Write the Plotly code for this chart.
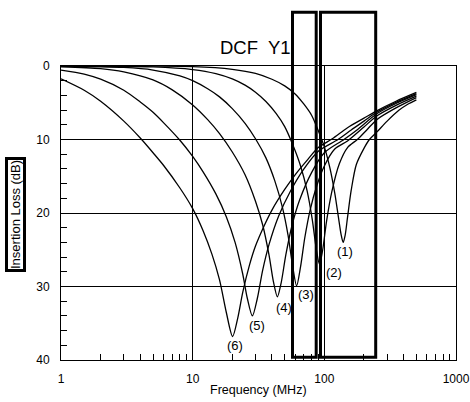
import math
import plotly.graph_objects as go

# Insertion loss (dB) versus frequency (MHz) for the six filter variants
curve1_mhz = [1, 10, 20, 30, 40, 50, 60, 70, 80, 90, 100, 110, 120, 128, 134, 139, 144, 150, 160, 175, 200, 220, 250, 300, 370, 430, 500]
curve1_db = [0.0, 0.09, 0.45, 1.0, 1.8, 2.7, 3.8, 5.2, 6.7, 8.8, 11.0, 13.8, 17.3, 20.6, 22.9, 24.0, 23.0, 20.6, 16.9, 13.4, 11.2, 10.0, 9.0, 7.5, 6.0, 5.2, 4.6]

curve2_mhz = [1, 5, 10, 15, 20, 25, 30, 36, 43, 50, 58, 66, 74, 81, 87, 92, 97, 104, 114, 130, 150, 178, 210, 250, 350, 500]
curve2_db = [0.0, 0.12, 0.48, 1.03, 1.75, 2.6, 3.56, 4.82, 6.45, 8.25, 10.85, 13.6, 17.0, 20.9, 25.0, 27.0, 25.1, 21.1, 17.1, 13.3, 11.1, 10.0, 8.7, 7.3, 5.7, 4.3]

curve3_mhz = [1, 3, 5, 8, 10, 13, 16, 20, 25, 30, 36, 42, 48, 53, 57, 61.6, 66, 71, 78, 88, 100, 120, 150, 200, 250, 350, 500]
curve3_db = [0.0, 0.2, 0.55, 1.35, 2.0, 3.1, 4.2, 5.8, 7.8, 9.9, 12.5, 15.6, 19.2, 23.0, 26.8, 29.9, 27.3, 23.4, 19.6, 16.2, 13.6, 11.3, 10.2, 8.3, 6.8, 5.35, 4.1]

curve4_mhz = [1, 2, 3, 5, 7, 10, 13, 16, 20, 25, 30, 34, 38, 41, 44, 47, 51, 57, 65, 80, 100, 141, 180, 250, 350, 500]
curve4_db = [0.1, 0.35, 0.8, 1.9, 3.25, 5.3, 7.3, 9.2, 11.7, 14.8, 18.4, 21.6, 25.7, 29.3, 31.4, 29.5, 25.7, 21.6, 18.2, 14.5, 11.8, 10.0, 8.6, 6.5, 5.1, 3.9]

curve5_mhz = [1, 1.5, 2, 3, 4, 5, 6, 8, 10, 12, 15, 18, 21, 24, 26, 28.4, 31, 34, 38, 45, 55, 70, 90, 127, 160, 200, 250, 350, 500]
curve5_db = [0.55, 1.1, 1.8, 3.3, 4.9, 6.3, 7.7, 10.1, 12.3, 14.4, 17.4, 20.5, 24.0, 28.3, 31.6, 34.0, 31.6, 27.8, 24.3, 20.4, 17.1, 14.0, 11.6, 10.0, 8.7, 7.5, 6.3, 4.95, 3.75]

curve6_mhz = [1, 1.5, 2, 3, 4, 5, 6, 8, 10, 12, 14, 16, 18, 20.1, 22, 24, 27, 30, 35, 40, 50, 60, 75, 90, 115, 150, 200, 250, 350, 500]
curve6_db = [1.75, 3.3, 4.8, 7.5, 9.8, 11.8, 13.5, 16.6, 19.4, 22.4, 25.6, 29.1, 33.5, 36.8, 34.3, 30.8, 27.1, 24.5, 21.7, 19.6, 16.8, 14.8, 12.7, 11.1, 9.9, 8.4, 7.1, 6.1, 4.8, 3.6]

curve_labels = ["(1)", "(2)", "(3)", "(4)", "(5)", "(6)"]

x_tick_vals = [1, 10, 100, 1000]
x_tick_text = ["1", "10", "100", "1000"]
x_minor_vals = [m * d for d in (1, 10, 100) for m in range(2, 10)]
y_tick_vals = [0, 10, 20, 30, 40]
y_minor_vals = [v for v in range(2, 40, 2) if v % 10]

curves = [
    (curve1_mhz, curve1_db),
    (curve2_mhz, curve2_db),
    (curve3_mhz, curve3_db),
    (curve4_mhz, curve4_db),
    (curve5_mhz, curve5_db),
    (curve6_mhz, curve6_db),
]

FONT = "Liberation Sans, Arial, Helvetica, sans-serif"

# plot area in page pixels
W, H = 470, 402
L, R, T, B = 61, 14, 66, 42
PW, PH = W - L - R, H - T - B


def px_to_paper(px, py):
    return (px - L) / PW, (H - B - py) / PH


fig = go.Figure()
for mhz, db in curves:
    fig.add_trace(go.Scatter(
        x=mhz, y=db, mode="lines",
        line=dict(color="black", width=1.3, shape="spline", smoothing=0.8),
        hoverinfo="skip", showlegend=False,
    ))

# notch labels, placed just below each curve's deepest point
label_shift = [(2, -9), (14, -8), (9, -9), (7, -11), (5, -10), (2, -9)]
annotations = []
for (mhz, db), text, (dx, dy) in zip(curves, curve_labels, label_shift):
    k = max(range(len(db)), key=lambda i: db[i])
    annotations.append(dict(
        x=math.log10(mhz[k]), y=db[k], xref="x", yref="y", text=text,
        showarrow=False, xanchor="center", yanchor="middle",
        xshift=dx, yshift=dy, font=dict(family=FONT, size=13, color="black"),
    ))

tx, ty = px_to_paper(255, 48)
annotations.append(dict(
    x=tx, y=ty, xref="paper", yref="paper", text="DCF\u00a0 Y1",
    showarrow=False, xanchor="center", yanchor="middle",
    font=dict(family=FONT, size=18.5, color="black"),
))

lx, ly = px_to_paper(15, 215)
annotations.append(dict(
    x=lx, y=ly, xref="paper", yref="paper", text="Insertion Loss (dB)",
    textangle=-90, showarrow=False, xanchor="center", yanchor="middle",
    bordercolor="black", borderwidth=3, borderpad=0, bgcolor="white",
    font=dict(family=FONT, size=13, color="black"),
))

fx, fy = px_to_paper(258, 390)
annotations.append(dict(
    x=fx, y=fy, xref="paper", yref="paper", text="Frequency (MHz)",
    showarrow=False, xanchor="center", yanchor="middle",
    font=dict(family=FONT, size=12.5, color="black"),
))

# two outlined boxes drawn over the chart
shapes = []
for x0, x1 in [(292.5, 316.2), (320.5, 375.7)]:
    a0, b0 = px_to_paper(x0, 357.3)
    a1, b1 = px_to_paper(x1, 12.3)
    shapes.append(dict(
        type="rect", xref="paper", yref="paper", x0=a0, y0=b0, x1=a1, y1=b1,
        line=dict(color="black", width=3), fillcolor="rgba(0,0,0,0)", layer="above",
    ))

axis_common = dict(
    showgrid=True, gridcolor="black", gridwidth=1,
    showline=True, linecolor="black", linewidth=1, mirror=True,
    ticks="", zeroline=False, automargin=False, autorange=False,
    tickfont=dict(family=FONT, size=12, color="black"),
)

fig.update_layout(
    width=W, height=H, autosize=False,
    margin=dict(l=L, r=R, t=T, b=B, pad=0, autoexpand=False),
    paper_bgcolor="white", plot_bgcolor="white",
    showlegend=False,
    xaxis=dict(
        type="log", range=[0, 3],
        tickmode="array", tickvals=x_tick_vals, ticktext=x_tick_text,
        ticklabelstandoff=8,
        minor=dict(tickmode="array", tickvals=x_minor_vals, ticks="inside",
                   ticklen=6, tickwidth=1, tickcolor="black", showgrid=False),
        **axis_common,
    ),
    yaxis=dict(
        range=[40, 0],
        tickmode="array", tickvals=y_tick_vals,
        ticklabelstandoff=8,
        minor=dict(tickmode="array", tickvals=y_minor_vals, ticks="inside",
                   ticklen=6, tickwidth=1, tickcolor="black", showgrid=False),
        **axis_common,
    ),
    annotations=annotations,
    shapes=shapes,
)

fig.write_html("out.html", config={"responsive": False})
